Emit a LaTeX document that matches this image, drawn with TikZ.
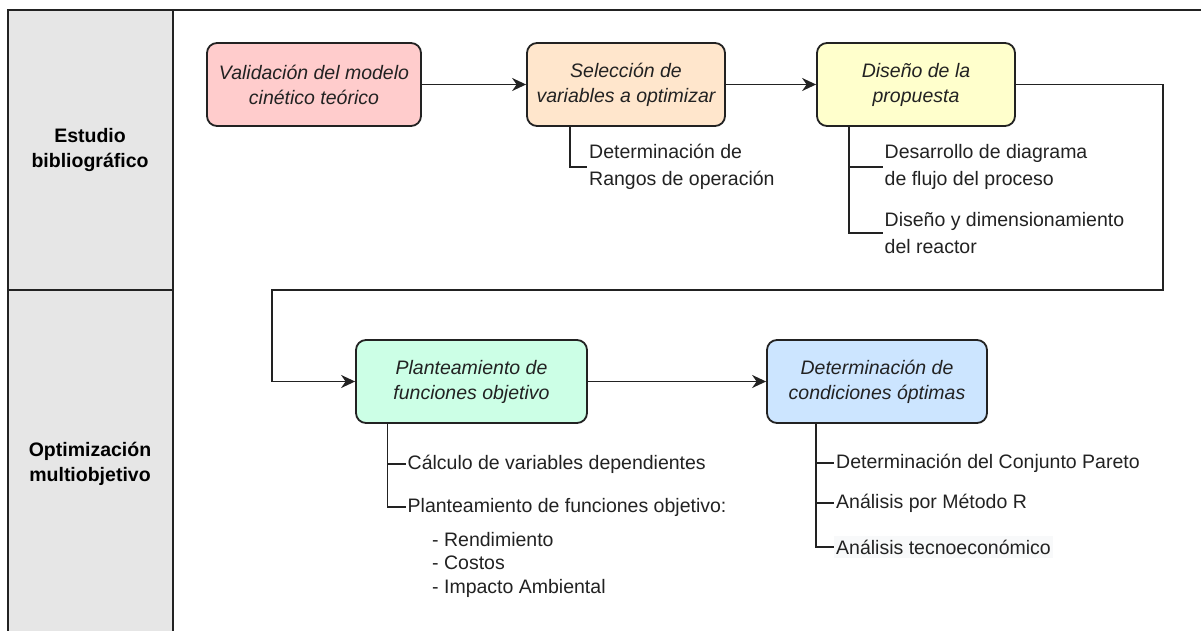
\documentclass[tikz,border=0pt]{standalone}
\usepackage{fontspec}
\setmainfont{Liberation Sans}
\usetikzlibrary{arrows.meta}
\definecolor{lnc}{HTML}{222222}
\definecolor{colgray}{HTML}{E6E6E6}
\definecolor{fpink}{HTML}{FFCCCC}
\definecolor{forange}{HTML}{FFE6CC}
\definecolor{fyellow}{HTML}{FFFFCC}
\definecolor{fgreen}{HTML}{CCFFE6}
\definecolor{fblue}{HTML}{CCE5FF}
\definecolor{fnote}{HTML}{F8F9FA}
\tikzset{
  box/.style={draw=lnc, line width=1.8pt, rounded corners=10pt, minimum height=83pt,
    align=center, inner sep=0pt, text=lnc,
    font=\fontsize{19.5}{25}\selectfont\itshape},
  sub/.style={anchor=west, align=left, inner xsep=2pt, inner ysep=0pt, text=lnc,
    font=\fontsize{19.5}{27.5}\selectfont},
  lane/.style={align=center, text=black, font=\fontsize{19.5}{25}\selectfont\bfseries},
  conn/.style={draw=lnc, line width=1.6pt},
  arr/.style={conn, -{Stealth[length=14pt, width=13pt, inset=4.5pt]}},
  frame/.style={draw=lnc, line width=1.6pt}
}
\begin{document}
\begin{tikzpicture}[x=1pt, y=-1pt]
\useasboundingbox (0,0) rectangle (1201,631);
\fill[white] (0,0) rectangle (1201,631);
% frame and lanes
\draw[frame] (8,645) -- (8,10) -- (1215,10);
\draw[frame, fill=colgray] (8,10) rectangle (173,290);
\draw[frame, fill=colgray] (8,290) rectangle (173,645);
\node[lane] (l1) at (90,150) {Estudio\\bibliográfico};
\node[lane] (l2) at (90,464) {Optimización\\multiobjetivo};
% main boxes
\node[box, fill=fpink, minimum width=214pt] (b1) at (314,84.5) {Validación del modelo\\cinético teórico};
\node[box, fill=forange, minimum width=198pt] (b2) at (626,84.5) {Selección de\\variables a optimizar};
\node[box, fill=fyellow, minimum width=198pt] (b3) at (916,84.5) {Diseño de la\\propuesta};
\node[box, fill=fgreen, minimum width=231pt] (b4) at (471.5,381.5) {Planteamiento de\\funciones objetivo};
\node[box, fill=fblue, minimum width=220pt] (b5) at (877,381.5) {Determinación de\\condiciones óptimas};
% arrows
\draw[arr] (b1) -- (b2);
\draw[arr] (b2) -- (b3);
\coordinate (c1) at (1163,290);
\coordinate (c2) at (272,290);
\draw[arr] (b3.east) -| (c1) -- (c2) |- (b4.west);
\draw[arr] (b4) -- (b5);
% sub items of b2
\node[sub] (t1) at (587,167) {Determinación de\\Rangos de operación};
\coordinate (v2) at ([xshift=44pt]b2.south west);
\draw[conn] (v2) |- (t1.west);
% sub items of b3
\node[sub] (t2) at (882.5,167) {Desarrollo de diagrama\\de flujo del proceso};
\node[sub] (t3) at (882.5,233) {Diseño y dimensionamiento\\del reactor};
\coordinate (v3) at ([xshift=33pt]b3.south west);
\draw[conn] (v3) |- (t2.west);
\draw[conn] (v3) |- (t3.west);
% sub items of b4
\node[sub] (t4) at (405.5,464) {Cálculo de variables dependientes};
\node[sub] (t5) at (405.5,507) {Planteamiento de funciones objetivo:};
\node[sub, font=\fontsize{19.5}{23.5}\selectfont] (t6) at (430,564.5) {- Rendimiento\\- Costos\\- Impacto Ambiental};
\coordinate (v4) at ([xshift=32.5pt]b4.south west);
\draw[conn] (v4) |- (t4.west);
\draw[conn] (v4) |- (t5.west);
% sub items of b5
\node[sub] (t7) at (834,463) {Determinación del Conjunto Pareto};
\node[sub] (t8) at (834,503) {Análisis por Método R};
\node[sub, fill=fnote, inner ysep=4pt] (t9) at (834,547) {Análisis tecnoeconómico};
\coordinate (v5) at ([xshift=50pt]b5.south west);
\draw[conn] (v5) |- (t7.west);
\draw[conn] (v5) |- (t8.west);
\draw[conn] (v5) |- (t9.west);
\end{tikzpicture}
\end{document}
